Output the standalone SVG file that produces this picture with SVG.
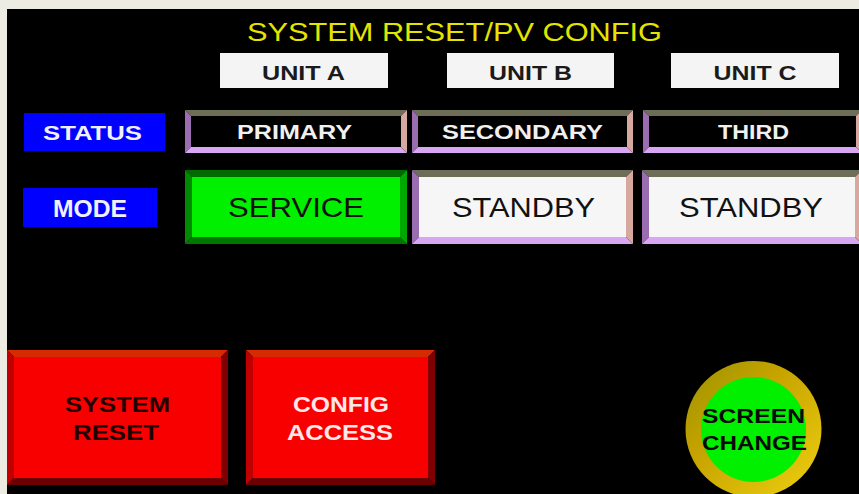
<svg xmlns="http://www.w3.org/2000/svg" width="859" height="494" viewBox="0 0 859 494">
  <defs>
    <linearGradient id="ring" x1="0" y1="0" x2="1" y2="1">
      <stop offset="0" stop-color="#9a9200"/>
      <stop offset="0.4" stop-color="#c8a400"/>
      <stop offset="1" stop-color="#eed010"/>
    </linearGradient>
  </defs>
  <style>
    text { font-family: "Liberation Sans", Arial, sans-serif; text-anchor: middle; }
    .title { fill: #e4e400; font-size: 25px; }
    .unit { fill: #f4f4f4; }
    .unitt { fill: #1a1a1a; font-size: 20px; font-weight: bold; }
    .lbl { fill: #0000ff; }
    .lblt { fill: #f0f0ff; font-size: 21px; font-weight: bold; }
    .st { fill: #f0f0f0; font-size: 20px; font-weight: bold; }
    .md { fill: #111; font-size: 28px; }
    .pt { fill: #6e6e58; } .pl { fill: #9a6cb0; } .pb { fill: #d8a6f2; } .pr { fill: #d6a89e; }
    .gt { fill: #006a00; } .gl { fill: #008a00; } .gb { fill: #007800; } .gr { fill: #00a800; } .gi { fill: #00f000; }
    .rt { fill: #d62a00; } .rl { fill: #c00000; } .rb { fill: #6a0000; } .rr { fill: #7e0000; } .ri { fill: #f80000; }
    .btn { font-size: 22px; font-weight: bold; }
  </style>
  <rect x="0" y="0" width="859" height="494" fill="#ecece2"/>
  <rect x="7" y="9" width="852" height="485" fill="#000"/>

  <g id="title"><text class="title" x="454.5" y="41" textLength="415" lengthAdjust="spacingAndGlyphs">SYSTEM RESET/PV CONFIG</text></g>

  <g id="unit-a"><rect class="unit" x="220" y="53" width="168" height="35"/><text class="unitt" x="303.5" y="80" textLength="83" lengthAdjust="spacingAndGlyphs">UNIT A</text></g>
  <g id="unit-b"><rect class="unit" x="447" y="53" width="167" height="35"/><text class="unitt" x="530.5" y="80" textLength="83" lengthAdjust="spacingAndGlyphs">UNIT B</text></g>
  <g id="unit-c"><rect class="unit" x="671" y="53" width="168" height="35"/><text class="unitt" x="755" y="80" textLength="83" lengthAdjust="spacingAndGlyphs">UNIT C</text></g>

  <g id="status-label"><rect class="lbl" x="24" y="113" width="141" height="38"/><text class="lblt" x="92.5" y="140" textLength="99" lengthAdjust="spacingAndGlyphs">STATUS</text></g>
  <g id="mode-label"><rect class="lbl" x="23" y="188" width="134" height="39"/><text class="lblt" x="90" y="217" textLength="74" lengthAdjust="spacingAndGlyphs" style="font-size:23px">MODE</text></g>

  <g id="status-a">
    <polygon class="pt" points="185,110 407,110 401,116 191,116"/>
    <polygon class="pl" points="185,110 191,116 191,147 185,153"/>
    <polygon class="pb" points="185,153 191,147 401,147 407,153"/>
    <polygon class="pr" points="407,110 407,153 401,147 401,116"/>
    <rect x="191" y="116" width="210" height="31" fill="#000"/>
    <text class="st" x="294.5" y="139" textLength="115" lengthAdjust="spacingAndGlyphs">PRIMARY</text>
  </g>
  <g id="status-b">
    <polygon class="pt" points="412,110 633,110 627,116 418,116"/>
    <polygon class="pl" points="412,110 418,116 418,147 412,153"/>
    <polygon class="pb" points="412,153 418,147 627,147 633,153"/>
    <polygon class="pr" points="633,110 633,153 627,147 627,116"/>
    <rect x="418" y="116" width="209" height="31" fill="#000"/>
    <text class="st" x="522.5" y="139" textLength="161" lengthAdjust="spacingAndGlyphs">SECONDARY</text>
  </g>
  <g id="status-c">
    <polygon class="pt" points="643,110 862,110 856,116 649,116"/>
    <polygon class="pl" points="643,110 649,116 649,147 643,153"/>
    <polygon class="pb" points="643,153 649,147 856,147 862,153"/>
    <polygon class="pr" points="862,110 862,153 856,147 856,116"/>
    <rect x="649" y="116" width="207" height="31" fill="#000"/>
    <text class="st" x="753.5" y="139" textLength="71" lengthAdjust="spacingAndGlyphs">THIRD</text>
  </g>

  <g id="mode-a">
    <polygon class="gt" points="185,170 407,170 400,177 192,177"/>
    <polygon class="gl" points="185,170 192,177 192,237 185,244"/>
    <polygon class="gb" points="185,244 192,237 400,237 407,244"/>
    <polygon class="gr" points="407,170 407,244 400,237 400,177"/>
    <rect class="gi" x="192" y="177" width="208" height="60"/>
    <text class="md" x="296" y="217" textLength="136" lengthAdjust="spacingAndGlyphs">SERVICE</text>
  </g>
  <g id="mode-b">
    <polygon class="pt" points="412,170 633,170 626,177 419,177"/>
    <polygon class="pl" points="412,170 419,177 419,237 412,244"/>
    <polygon class="pb" points="412,244 419,237 626,237 633,244"/>
    <polygon class="pr" points="633,170 633,244 626,237 626,177"/>
    <rect x="419" y="177" width="207" height="60" fill="#f6f6f6"/>
    <text class="md" x="523.5" y="217" textLength="143" lengthAdjust="spacingAndGlyphs">STANDBY</text>
  </g>
  <g id="mode-c">
    <polygon class="pt" points="642,170 862,170 855,177 649,177"/>
    <polygon class="pl" points="642,170 649,177 649,237 642,244"/>
    <polygon class="pb" points="642,244 649,237 855,237 862,244"/>
    <polygon class="pr" points="862,170 862,244 855,237 855,177"/>
    <rect x="649" y="177" width="206" height="60" fill="#f6f6f6"/>
    <text class="md" x="751" y="217" textLength="144" lengthAdjust="spacingAndGlyphs">STANDBY</text>
  </g>

  <g id="system-reset">
    <polygon class="rt" points="7,350 228,350 221,357 14,357"/>
    <polygon class="rl" points="7,350 14,357 14,478 7,485"/>
    <polygon class="rb" points="7,485 14,478 221,478 228,485"/>
    <polygon class="rr" points="228,350 228,485 221,478 221,357"/>
    <rect class="ri" x="14" y="357" width="207" height="121"/>
    <text class="btn" fill="#200000" x="117.5" y="412" textLength="105" lengthAdjust="spacingAndGlyphs">SYSTEM</text>
    <text class="btn" fill="#200000" x="116" y="440" textLength="86" lengthAdjust="spacingAndGlyphs">RESET</text>
  </g>
  <g id="config-access">
    <polygon class="rt" points="246,350 435,350 428,357 253,357"/>
    <polygon class="rl" points="246,350 253,357 253,478 246,485"/>
    <polygon class="rb" points="246,485 253,478 428,478 435,485"/>
    <polygon class="rr" points="435,350 435,485 428,478 428,357"/>
    <rect class="ri" x="253" y="357" width="175" height="121"/>
    <text class="btn" fill="#ffe8e8" x="341" y="412" textLength="96" lengthAdjust="spacingAndGlyphs">CONFIG</text>
    <text class="btn" fill="#ffe8e8" x="340" y="440" textLength="106" lengthAdjust="spacingAndGlyphs">ACCESS</text>
  </g>

  <g id="screen-change">
    <circle cx="753.5" cy="429" r="68" fill="url(#ring)"/>
    <circle cx="753.5" cy="429.5" r="52.5" fill="#00f000"/>
    <text class="btn" fill="#0a0a0a" x="753.5" y="423" textLength="103" lengthAdjust="spacingAndGlyphs" style="font-size:21px">SCREEN</text>
    <text class="btn" fill="#0a0a0a" x="754.5" y="450" textLength="105" lengthAdjust="spacingAndGlyphs" style="font-size:21px">CHANGE</text>
  </g>

  <g id="connectors"/>
</svg>
